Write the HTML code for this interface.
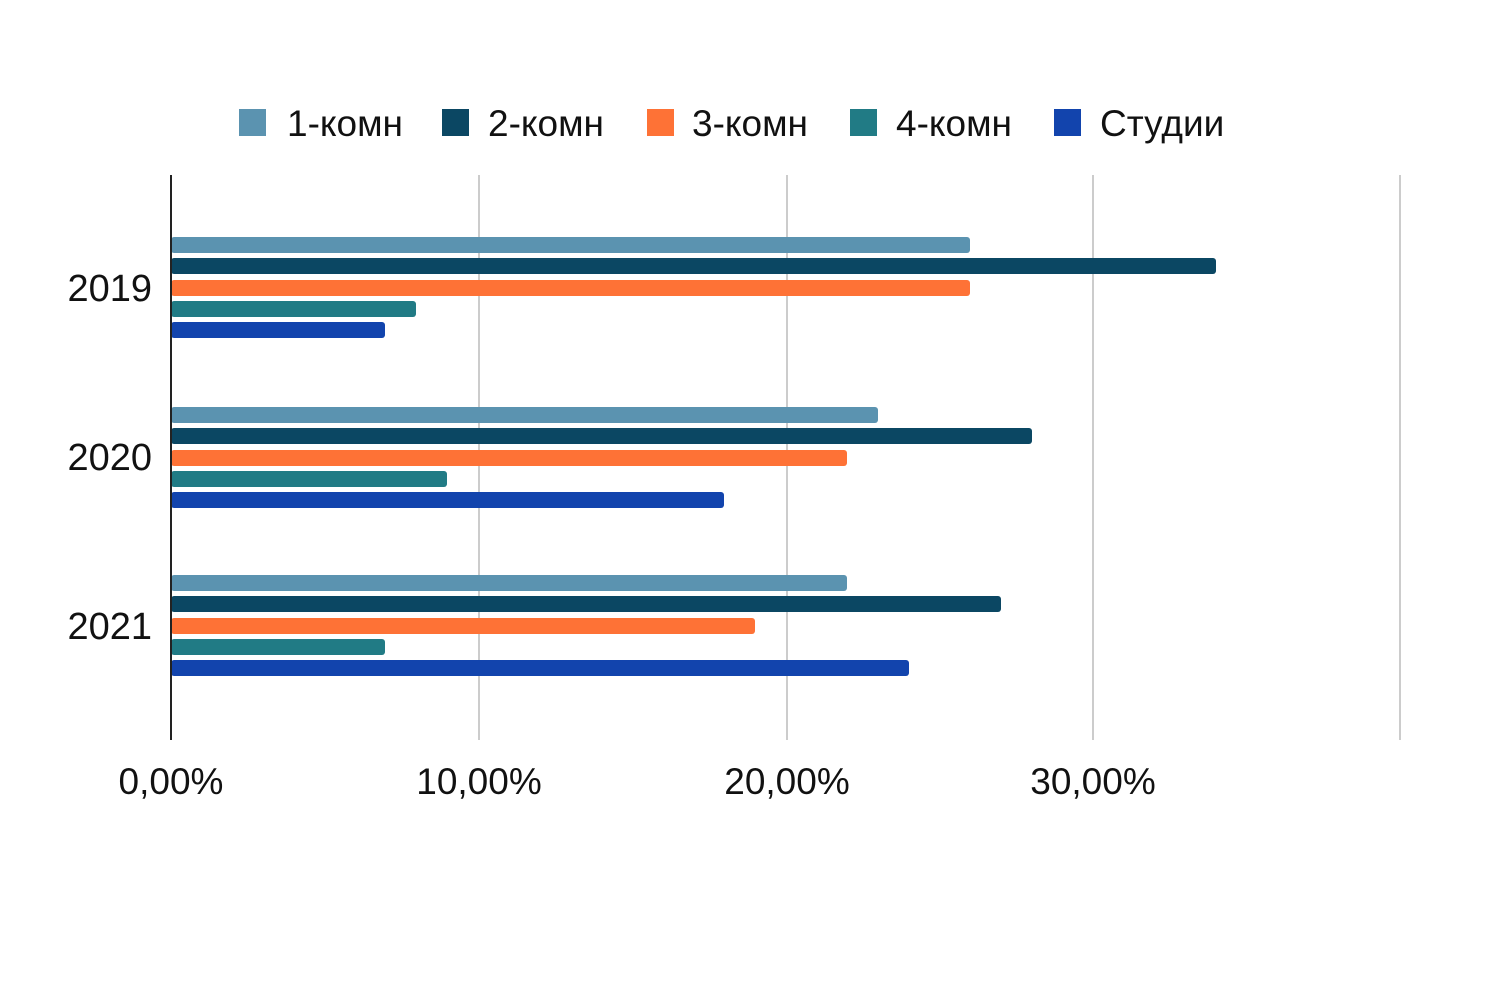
<!DOCTYPE html>
<html><head><meta charset="utf-8"><style>
body{margin:0;background:#fff}
svg text{font-family:"Liberation Sans",sans-serif;fill:#111}
</style></head><body>
<svg width="1500" height="1000" xmlns="http://www.w3.org/2000/svg">
<rect width="1500" height="1000" fill="#fff"/>
<g stroke="#ccc" stroke-width="2">
<line x1="479" y1="175" x2="479" y2="740"/>
<line x1="787" y1="175" x2="787" y2="740"/>
<line x1="1093" y1="175" x2="1093" y2="740"/>
<line x1="1400" y1="175" x2="1400" y2="740"/>
</g>
<g font-size="37">
<rect x="239" y="109" width="27" height="27" fill="#5b93b0"/><text x="287" y="136">1-комн</text>
<rect x="442" y="109" width="27" height="27" fill="#0b4763"/><text x="488" y="136">2-комн</text>
<rect x="647" y="109" width="27" height="27" fill="#fe7236"/><text x="692" y="136">3-комн</text>
<rect x="850" y="109" width="27" height="27" fill="#217b85"/><text x="896" y="136">4-комн</text>
<rect x="1054" y="109" width="27" height="27" fill="#1244ad"/><text x="1100" y="136">Студии</text>
</g>
<g id="bars">
<rect x="171" y="237" width="799" height="16" rx="3" fill="#5b93b0"/>
<rect x="171" y="258" width="1045" height="16" rx="3" fill="#0b4763"/>
<rect x="171" y="280" width="799" height="16" rx="3" fill="#fe7236"/>
<rect x="171" y="301" width="245" height="16" rx="3" fill="#217b85"/>
<rect x="171" y="322" width="214" height="16" rx="3" fill="#1244ad"/>
<rect x="171" y="407" width="707" height="16" rx="3" fill="#5b93b0"/>
<rect x="171" y="428" width="861" height="16" rx="3" fill="#0b4763"/>
<rect x="171" y="450" width="676" height="16" rx="3" fill="#fe7236"/>
<rect x="171" y="471" width="276" height="16" rx="3" fill="#217b85"/>
<rect x="171" y="492" width="553" height="16" rx="3" fill="#1244ad"/>
<rect x="171" y="575" width="676" height="16" rx="3" fill="#5b93b0"/>
<rect x="171" y="596" width="830" height="16" rx="3" fill="#0b4763"/>
<rect x="171" y="618" width="584" height="16" rx="3" fill="#fe7236"/>
<rect x="171" y="639" width="214" height="16" rx="3" fill="#217b85"/>
<rect x="171" y="660" width="738" height="16" rx="3" fill="#1244ad"/>
</g>
<line x1="171" y1="175" x2="171" y2="740" stroke="#222" stroke-width="2"/>
<g font-size="38" text-anchor="end">
<text x="152" y="301">2019</text>
<text x="152" y="470">2020</text>
<text x="152" y="639">2021</text>
</g>
<g font-size="37" text-anchor="middle">
<text x="171" y="794">0,00%</text>
<text x="479" y="794">10,00%</text>
<text x="787" y="794">20,00%</text>
<text x="1093" y="794">30,00%</text>
</g>
</svg>
</body></html>
